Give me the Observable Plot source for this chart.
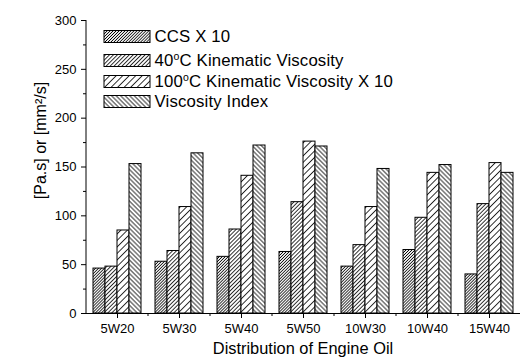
<!DOCTYPE html>
<html>
<head>
<meta charset="utf-8">
<script src="https://cdn.jsdelivr.net/npm/d3@7"></script>
<script src="https://cdn.jsdelivr.net/npm/@observablehq/plot@0.6"></script>
<style>
  html, body { margin: 0; padding: 0; background: #fff; }
  #chart svg { display: block; }
</style>
</head>
<body>
<div id="chart"></div>
<script>
// ---- data ----
const categories = ["5W20", "5W30", "5W40", "5W50", "10W30", "10W40", "15W40"];
const seriesKeys = ["ccs", "kv40", "kv100", "vi"];
const ccs   = [46, 53, 58, 63, 48, 65, 40];
const kv40  = [48, 64, 86, 114, 70, 98, 112];
const kv100 = [85, 109, 141, 176, 109, 144, 154];
const vi    = [153, 164, 172, 171, 148, 152, 144];
const yTicks = [0, 50, 100, 150, 200, 250, 300];
const yMinorTicks = [25, 75, 125, 175, 225, 275];
const xLabel = "Distribution of Engine Oil";
const yLabel = "[Pa.s] or [mm²/s]";

const seriesValues = {ccs, kv40, kv100, vi};
const table = [];
categories.forEach((c, i) => {
  seriesKeys.forEach((k) => table.push({cat: c, s: k, v: seriesValues[k][i]}));
});

const patternIds = ["p-ccs", "p-kv40", "p-kv100", "p-vi"];

const plot = Plot.plot({
  width: 520,
  height: 358,
  marginLeft: 83,
  marginRight: -3,
  marginTop: 20,
  marginBottom: 45,
  style: {fontFamily: "'Liberation Sans', Arial, sans-serif", background: "#fff", color: "#000"},
  fx: {domain: categories, padding: 0, label: null},
  x: {domain: seriesKeys, padding: 0, paddingOuter: 0.46, axis: null},
  y: {domain: [0, 300]},
  color: {domain: seriesKeys, range: patternIds.map((id) => `url(#${id})`)},
  marks: [
    Plot.barY(table, {fx: "cat", x: "s", y: "v", fill: "s", stroke: "#000", strokeWidth: 1, inset: 0}),
    Plot.ruleY([0], {stroke: "#000", strokeWidth: 1}),
    Plot.axisY({ticks: yTicks, tickSize: 5, tickPadding: 5, fontSize: 13, label: null}),
    Plot.axisY({ticks: yMinorTicks, tickSize: 3, tickFormat: () => "", label: null}),
    Plot.axisFx({anchor: "bottom", tickSize: 5, tickPadding: 5, fontSize: 13, label: null})
  ]
});

// ---- patterns ----
const svg = d3.select(plot.tagName.toLowerCase() === "svg" ? plot : plot.querySelector("svg"));
const defs = svg.insert("defs", ":first-child");
function addPattern(id, spacing, angle) {
  const p = defs.append("pattern")
    .attr("id", id)
    .attr("patternUnits", "userSpaceOnUse")
    .attr("width", spacing)
    .attr("height", spacing)
    .attr("patternTransform", `rotate(${angle})`);
  p.append("rect").attr("width", spacing).attr("height", spacing).attr("fill", "#fff");
  p.append("line")
    .attr("x1", spacing / 2).attr("y1", -1)
    .attr("x2", spacing / 2).attr("y2", spacing + 1)
    .attr("stroke", "#000").attr("stroke-width", 0.8);
}
addPattern("p-ccs", 2.1, 45);
addPattern("p-kv40", 2.8, 45);
addPattern("p-kv100", 4.6, 45);
addPattern("p-vi", 3.2, -45);

// ---- axis lines, boundary ticks, labels, legend ----
const ys = plot.scale("y");
const fxs = plot.scale("fx");
const y0 = ys.apply(0), y300 = ys.apply(300);
const left = fxs.apply(categories[0]);
const step = fxs.bandwidth;

svg.append("line")
  .attr("x1", left).attr("x2", left).attr("y1", y0).attr("y2", y300)
  .attr("stroke", "#000").attr("stroke-width", 1);

categories.forEach((c, i) => {
  const bx = fxs.apply(c);
  if (i > 0) {
    svg.append("line")
      .attr("x1", bx).attr("x2", bx).attr("y1", y0).attr("y2", y0 + 3)
      .attr("stroke", "#000").attr("stroke-width", 1);
  }
});

svg.append("text")
  .attr("x", left + (categories.length * step) / 2)
  .attr("y", 354)
  .attr("text-anchor", "middle")
  .attr("font-size", 16.4)
  .attr("fill", "#000")
  .text(xLabel);

svg.append("text")
  .attr("transform", `translate(46, ${(y0 + y300) / 2 - 26}) rotate(-90)`)
  .attr("text-anchor", "middle")
  .attr("font-size", 16)
  .attr("fill", "#000")
  .text(yLabel);

const legendRows = [
  {id: "p-ccs", parts: [["CCS X 10", false]]},
  {id: "p-kv40", parts: [["40", false], ["o", true], ["C Kinematic Viscosity", false]]},
  {id: "p-kv100", parts: [["100", false], ["o", true], ["C Kinematic Viscosity X 10", false]]},
  {id: "p-vi", parts: [["Viscosity Index", false]]}
];
const rowCenters = [36.5, 60.5, 81.5, 101.5];
const lg = svg.append("g").attr("text-anchor", "start");
legendRows.forEach((r, i) => {
  const cy = rowCenters[i];
  lg.append("rect")
    .attr("x", 104).attr("y", cy - 6).attr("width", 46).attr("height", 12)
    .attr("fill", `url(#${r.id})`).attr("stroke", "#000").attr("stroke-width", 1);
  const t = lg.append("text")
    .attr("x", 154.5).attr("y", cy + 5.8)
    .attr("text-anchor", "start")
    .attr("font-size", 16.8)
    .attr("letter-spacing", 0.15)
    .attr("fill", "#000");
  r.parts.forEach(([txt, sup], j) => {
    const ts = t.append("tspan").text(txt);
    if (sup) ts.attr("font-size", 10.5).attr("dy", -6.5);
    else if (j > 0) ts.attr("dy", 6.5);
  });
});

document.getElementById("chart").appendChild(plot);
</script>
</body>
</html>
